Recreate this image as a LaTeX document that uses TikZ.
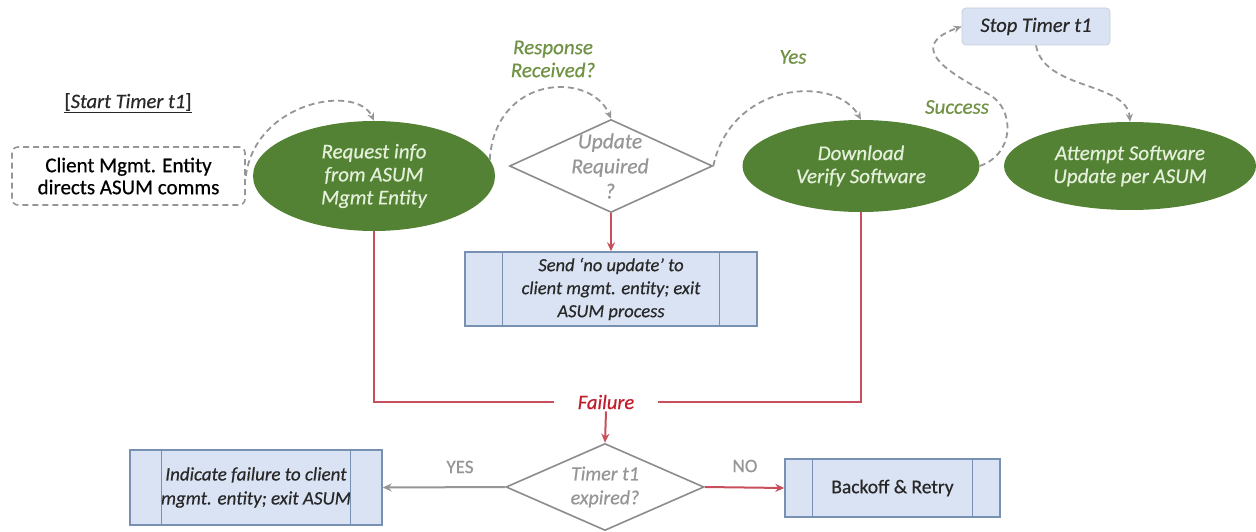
\documentclass[tikz,border=0pt]{standalone}
\usepackage{fontspec}
\setmainfont{Carlito}[FakeBold=0.5]
\usetikzlibrary{shapes.geometric,arrows.meta,calc}
\definecolor{ellgreen}{RGB}{84,130,53}
\definecolor{elltext}{RGB}{228,240,218}
\definecolor{lblgreen}{RGB}{112,146,68}
\definecolor{diagray}{RGB}{140,140,140}
\definecolor{txtgray}{RGB}{150,150,150}
\definecolor{boxfill}{RGB}{218,227,243}
\definecolor{boxline}{RGB}{120,144,178}
\definecolor{redline}{RGB}{200,80,92}
\definecolor{redtext}{RGB}{192,30,45}
\definecolor{dashgray}{RGB}{150,150,150}
\definecolor{darktext}{RGB}{40,40,40}
\tikzset{
  ellnode/.style={ellipse, fill=ellgreen, draw=none, inner sep=0pt, align=center,
    text=elltext, font=\fontsize{21}{23}\selectfont\itshape},
  dianode/.style={diamond, draw=diagray, line width=1.6pt, inner sep=0pt, fill=white},
  diatext/.style={align=center, text=txtgray, font=\fontsize{21.5}{25}\selectfont\itshape},
  procbox/.style={rectangle, fill=boxfill, draw=boxline, line width=1.4pt, align=center,
    text=darktext, font=\fontsize{18.5}{23}\selectfont\itshape},
  dashbox/.style={rectangle, rounded corners=6pt, draw=dashgray, line width=1.6pt,
    dash pattern=on 6pt off 4pt, align=center, text=black, font=\fontsize{21}{22}\selectfont},
  glabel/.style={align=center, text=lblgreen, font=\fontsize{21}{23}\selectfont\itshape},
  graylabel/.style={text=txtgray, font=\fontsize{19}{22}\selectfont},
  dasharrow/.style={draw=dashgray, line width=1.8pt, dash pattern=on 6pt off 4pt,
    -{Stealth[length=8pt,width=7pt]}},
  redconn/.style={draw=redline, line width=2pt},
  redarrow/.style={draw=redline, line width=2pt, -{Stealth[length=9pt,width=8pt]}},
  grayarrow/.style={draw=txtgray, line width=2pt, -{Stealth[length=9pt,width=8pt]}},
}
\newcommand{\innerbars}[2]{%
  \draw[boxline, line width=1.4pt] ($(#1.north west)+(#2,0)$) -- ($(#1.south west)+(#2,0)$);
  \draw[boxline, line width=1.4pt] ($(#1.north east)+(-#2,0)$) -- ($(#1.south east)+(-#2,0)$);}
\begin{document}
\begin{tikzpicture}[x=1pt,y=-1pt]
\useasboundingbox[fill=white] (0,0) rectangle (1256,532);

% texts / boxes
\node[font=\fontsize{20.5}{22}\selectfont, text=darktext] (start) at (128,103)
  {\underline{[\textit{Start Timer t1}]}};
\node[dashbox, minimum width=233pt, minimum height=58pt] (client) at (128.5,176)
  {Client Mgmt. Entity\\directs ASUM comms};

\node[ellnode, minimum width=242pt, minimum height=110pt] (req) at (374,176)
  {Request info\\from ASUM\\Mgmt Entity};
\node[dianode, minimum width=203pt, minimum height=93pt] (upd) at (611,166) {};
\node[diatext] (updtxt) at (610,166) {Update\\Required\\?};
\node[ellnode, minimum width=237pt, minimum height=92pt] (dl) at (861,166)
  {Download\\Verify Software};
\node[ellnode, minimum width=252pt, minimum height=88pt] (att) at (1130,166)
  {Attempt Software\\Update per ASUM};
\node[rectangle, rounded corners=4pt, fill=boxfill, draw=boxfill!80!gray, line width=0.8pt,
  minimum width=148pt, minimum height=37pt, text=darktext,
  font=\fontsize{20.5}{22}\selectfont\itshape] (stop) at (1036,26.5) {Stop Timer t1};

\node[glabel] (resp) at (553,59) {Response\\Received?};
\node[glabel] (yes) at (793,57) {Yes};
\node[glabel] (succ) at (957,107) {Success};

\node[procbox, minimum width=292pt, minimum height=74pt] (send) at (611,289)
  {Send `no update' to\\client mgmt. entity; exit\\ASUM process};
\innerbars{send}{38}

\node[text=redtext, font=\fontsize{20.5}{22}\selectfont\itshape, inner xsep=24pt, inner ysep=2pt]
  (fail) at (606,402) {Failure};

\node[dianode, minimum width=198pt, minimum height=87pt] (tmr) at (605,487) {};
\node[diatext, font=\fontsize{20}{24}\selectfont\itshape] (tmrtxt) at (605,487) {Timer t1\\expired?};

\node[procbox, minimum width=252pt, minimum height=75pt, font=\fontsize{19}{24}\selectfont\itshape]
  (ind) at (256,487.5) {Indicate failure to client\\mgmt. entity; exit ASUM};
\innerbars{ind}{32}
\node[procbox, minimum width=215pt, minimum height=58pt, font=\fontsize{19.5}{22}\selectfont]
  (back) at (892.5,488) {Backoff \& Retry};
\innerbars{back}{28}

\node[graylabel] (yeslbl) at (460,467) {YES};
\node[graylabel] (nolbl) at (745,466) {NO};

% red connectors
\draw[redconn] (req.south) |- (fail.west);
\draw[redconn] (dl.south) |- (fail.east);
\draw[redarrow] (fail.south) -- (tmr.north);
\draw[redarrow] (upd.south) -- (send.north);
\draw[redarrow] (tmr.east) -- (back.west);
\draw[grayarrow] (tmr.west) -- (ind.east);

% dashed connectors
\draw[dasharrow] (client.east) .. controls +(10,-75) and +(-17,-37) .. (req.north);
\draw[dasharrow] (req.8) .. controls +(5,-85) and +(-20,-48) .. (upd.north);
\draw[dasharrow] (upd.east) .. controls +(18,-85) and +(-25,-45) .. (dl.north);
\coordinate (sbend) at (990,95);
\draw[dasharrow] (dl.east) .. controls +(35,-12) and +(25,15) .. (sbend)
  .. controls +(-30,-17) and +(-62,22) .. (stop.west);
\draw[dasharrow] (stop.south) .. controls +(8,45) and +(-3,-40) .. (att.north);
\end{tikzpicture}
\end{document}
